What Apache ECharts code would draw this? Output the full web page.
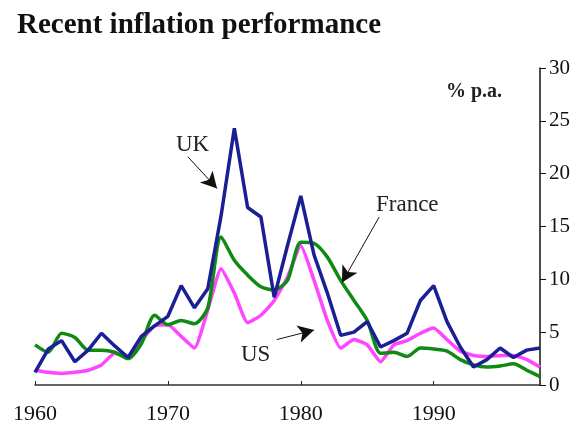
<!DOCTYPE html>
<html>
<head>
<meta charset="utf-8">
<script src="https://cdn.jsdelivr.net/npm/echarts@6/dist/echarts.min.js"></script>
<style>
  html, body { margin: 0; padding: 0; background: #fff; }
  #main { width: 578px; height: 430px; }
</style>
</head>
<body>
<div id="main"></div>
<script>
// years 1960 - 1998
const years = [];
for (let y = 1960; y <= 1998; y++) years.push(y);

// % p.a.
const uk = [1.2, 3.4, 4.2, 2.2, 3.3, 4.9, 3.7, 2.6, 4.6, 5.6,
  6.5, 9.4, 7.3, 9.1, 16.0, 24.3, 16.8, 15.9, 8.3, 13.2,
  17.9, 12.3, 8.7, 4.7, 5.0, 6.0, 3.6, 4.2, 4.9, 8.0,
  9.4, 6.0, 3.6, 1.7, 2.4, 3.5, 2.6, 3.3, 3.5];
const us = [1.4, 1.2, 1.1, 1.2, 1.4, 1.9, 3.0, 2.7, 4.2, 5.6,
  5.7, 4.6, 3.5, 7.1, 11.0, 8.7, 5.9, 6.6, 8.0, 10.2,
  13.2, 9.9, 6.1, 3.5, 4.3, 3.8, 2.2, 3.8, 4.2, 4.9,
  5.4, 4.3, 3.2, 2.8, 2.7, 2.8, 2.8, 2.4, 1.7];
const france = [3.8, 3.1, 4.9, 4.5, 3.3, 3.3, 3.1, 2.5, 3.9, 6.6,
  5.7, 6.1, 5.8, 7.3, 14.0, 11.8, 10.4, 9.3, 9.0, 9.9,
  13.5, 13.4, 12.1, 9.9, 8.0, 6.1, 3.0, 3.1, 2.7, 3.5,
  3.4, 3.2, 2.4, 1.9, 1.7, 1.8, 2.0, 1.4, 0.8];

const yTicks = [0, 5, 10, 15, 20, 25, 30];

// arrows for the callouts, in data units [from, to]
const ukArrow = [[1971.5, 21.6], [1973.7, 18.6]];
const franceArrow = [[1985.9, 15.9], [1983.1, 9.7]];
const usArrow = [[1978.2, 4.3], [1981.0, 5.2]];

const serif = '"Liberation Serif", "DejaVu Serif", serif';

const pairs = (vals) => years.map((y, i) => [y, vals[i]]);

const arrowLine = (a) => [{ coord: a[0] }, { coord: a[1] }];

const chart = echarts.init(document.getElementById('main'));

chart.setOption({
  animation: false,
  backgroundColor: '#fff',
  title: {
    text: 'Recent inflation performance',
    left: 12,
    top: 6,
    textStyle: { fontFamily: serif, fontWeight: 'bold', fontSize: 29, color: '#111' }
  },
  grid: { left: 35, right: 38, top: 68, bottom: 45 },
  xAxis: {
    type: 'value',
    min: 1960,
    max: 1998,
    interval: 10,
    axisLine: { lineStyle: { color: '#333', width: 1.5 } },
    axisTick: { inside: true, length: 4, lineStyle: { color: '#222' } },
    splitLine: { show: false },
    axisLabel: {
      showMaxLabel: false,
      margin: 18,
      formatter: (v) => String(v),
      fontFamily: serif,
      fontSize: 22,
      color: '#111'
    }
  },
  yAxis: {
    type: 'value',
    position: 'right',
    min: yTicks[0],
    max: yTicks[yTicks.length - 1],
    interval: 5,
    axisLine: { show: true, lineStyle: { color: '#111', width: 1.5 } },
    axisTick: { show: true, length: 6, lineStyle: { color: '#111' } },
    splitLine: { show: false },
    axisLabel: { margin: 9, fontFamily: serif, fontSize: 21, color: '#111' }
  },
  series: [
    {
      name: 'US',
      type: 'line',
      data: pairs(us),
      showSymbol: false,
      smooth: 0.15,
      lineStyle: { color: '#ff45ff', width: 3.5 },
      z: 2
    },
    {
      name: 'France',
      type: 'line',
      data: pairs(france),
      showSymbol: false,
      smooth: 0.25,
      lineStyle: { color: '#0f8a12', width: 3.5 },
      z: 3
    },
    {
      name: 'UK',
      type: 'line',
      data: pairs(uk),
      showSymbol: false,
      lineStyle: { color: '#1a1f94', width: 3.5 },
      z: 4,
      markLine: {
        silent: true,
        symbol: ['none', 'arrow'],
        symbolSize: [13, 16],
        label: { show: false },
        lineStyle: { color: '#111', width: 1, type: 'solid' },
        data: [arrowLine(ukArrow), arrowLine(franceArrow), arrowLine(usArrow)]
      }
    }
  ],
  graphic: [
    { type: 'text', left: 176, top: 133, style: { text: 'UK', font: '23px ' + serif, fill: '#222' } },
    { type: 'text', left: 376, top: 193, style: { text: 'France', font: '23px ' + serif, fill: '#222' } },
    { type: 'text', left: 241, top: 343, style: { text: 'US', font: '23px ' + serif, fill: '#222' } },
    { type: 'text', left: 446, top: 82, style: { text: '% p.a.', font: 'bold 20px ' + serif, fill: '#222' } }
  ]
});
</script>
</body>
</html>
